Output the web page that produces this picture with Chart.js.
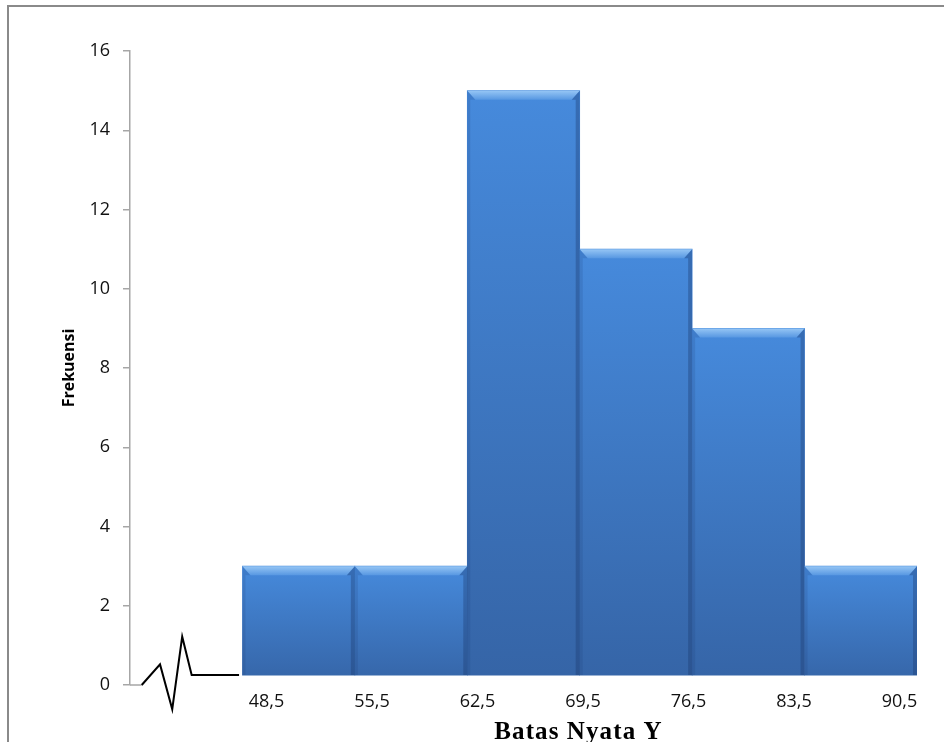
<!DOCTYPE html>
<html>
<head>
<meta charset="utf-8">
<script src="https://cdn.jsdelivr.net/npm/chart.js@4.4.1/dist/chart.umd.min.js"></script>
<style>
  body { margin: 0; background: #fff; }
  #wrap { position: relative; width: 944px; height: 742px; overflow: hidden; }
  #frame { position: absolute; left: 7px; top: 5px; width: 1000px; height: 800px; border: 2px solid #8a8a8a; }
  #myChart { position: absolute; left: 0; top: 0; }
</style>
</head>
<body>
<div id="wrap">
  <div id="frame"></div>
  <canvas id="myChart" width="944" height="742"></canvas>
</div>
<script>
const edges = [48.5, 55.5, 62.5, 69.5, 76.5, 83.5, 90.5];
const frekuensi = [3, 3, 15, 11, 9, 3];
const yTicks = [0, 2, 4, 6, 8, 10, 12, 14, 16];
const xTitle = 'Batas Nyata Y';
// zigzag "axis break" drawn left of the first bar (data units)
const breakX = [42.23, 43.37, 44.13, 44.75, 45.34, 48.29];
const breakY = [0, 0.52, -0.61, 1.22, 0.25, 0.25];

Chart.defaults.font.family = "'Open Sans', sans-serif";

const barData = frekuensi.map((f, i) => ({ x: (edges[i] + edges[i + 1]) / 2, y: f }));

function barFill(ctx) {
    const chart = ctx.chart;
    if (!chart.chartArea || ctx.type !== 'data') return '#4080d0';
    const ys = chart.scales.y;
    const top = ys.getPixelForValue(ctx.raw.y);
    const bot = ys.getPixelForValue(0);
    const g = chart.ctx.createLinearGradient(0, top, 0, bot);
    g.addColorStop(0, 'rgb(70,138,220)');
    g.addColorStop(1, 'rgb(53,100,166)');
    return g;
}

// bevel look of the office style bars
const bevel = {
    id: 'bevel',
    afterDatasetsDraw(chart) {
        const c = chart.ctx;
        chart.getDatasetMeta(0).data.forEach(bar => {
            const p = bar.getProps(['x', 'y', 'base', 'width'], true);
            const l = p.x - p.width / 2, r = p.x + p.width / 2, t = p.y, b = p.base;
            c.save();
            const g = c.createLinearGradient(0, t, 0, t + 9);
            g.addColorStop(0, 'rgb(150,198,245)');
            g.addColorStop(1, 'rgb(88,152,226)');
            c.fillStyle = g;
            c.beginPath();
            c.moveTo(l, t); c.lineTo(r, t); c.lineTo(r - 8, t + 9); c.lineTo(l + 8, t + 9);
            c.closePath(); c.fill();
            c.fillStyle = 'rgba(25,55,105,0.35)';
            c.beginPath();
            c.moveTo(r, t); c.lineTo(r, b); c.lineTo(r - 4, b); c.lineTo(r - 4, t + 9); c.lineTo(r - 8, t + 9);
            c.closePath(); c.fill();
            c.fillStyle = 'rgba(25,55,105,0.15)';
            c.beginPath();
            c.moveTo(l, t); c.lineTo(l + 8, t + 9); c.lineTo(l + 3, t + 9); c.lineTo(l + 3, b); c.lineTo(l, b);
            c.closePath(); c.fill();
            c.restore();
        });
    }
};

const axisBreak = {
    id: 'axisBreak',
    afterDraw(chart) {
        const c = chart.ctx, xs = chart.scales.x, ys = chart.scales.y, x2 = chart.scales.x2;
        const y0 = ys.getPixelForValue(0);
        c.save();
        c.strokeStyle = '#a6a6a6';
        c.lineWidth = 1.5;
        c.beginPath();
        c.moveTo(xs.left, y0);
        c.lineTo(xs.getPixelForValue(breakX[0]), y0);
        c.stroke();
        c.strokeStyle = '#000';
        c.lineWidth = 2;
        c.lineJoin = 'miter';
        c.beginPath();
        breakX.forEach((v, i) => {
            const px = xs.getPixelForValue(v), py = ys.getPixelForValue(breakY[i]);
            if (i) c.lineTo(px, py); else c.moveTo(px, py);
        });
        c.stroke();
        // x axis title, sits a bit right of the plot centre in the original
        c.font = "bold 25px 'Liberation Serif', 'Times New Roman', serif";
        if ('letterSpacing' in c) c.letterSpacing = '1.1px';
        c.fillStyle = '#000';
        c.textAlign = 'center';
        c.textBaseline = 'alphabetic';
        c.fillText(xTitle, x2.getPixelForValue(69.2), chart.height - 3);
        c.restore();
    }
};

const config = {
    type: 'bar',
    data: {
        datasets: [{
            label: 'Frekuensi',
            data: barData,
            base: 0.25,
            backgroundColor: barFill,
            borderWidth: 0,
            barPercentage: 1,
            categoryPercentage: 1,
            xAxisID: 'x'
        }]
    },
    options: {
        responsive: false,
        animation: false,
        devicePixelRatio: 1,
        layout: { padding: { left: 56, right: 27, top: 51, bottom: 0 } },
        plugins: { legend: { display: false }, tooltip: { enabled: false } },
        scales: {
            x: {
                type: 'linear',
                display: false,
                offset: false,
                min: 41.5,
                max: 90.5,
                afterBuildTicks: s => { s.ticks = [41.5].concat(edges).map(v => ({ value: v })); }
            },
            x2: {
                type: 'linear',
                position: 'bottom',
                offset: false,
                min: 39.44,
                max: 91.66,
                grid: { display: false, drawTicks: false, offset: false },
                border: { display: false },
                afterBuildTicks: s => { s.ticks = edges.map(v => ({ value: v })); },
                afterFit: s => { s.height = 57; },
                ticks: {
                    autoSkip: false,
                    maxRotation: 0,
                    padding: 6,
                    color: '#111',
                    font: { size: 18 },
                    callback: v => v.toFixed(1).replace('.', ',')
                }
            },
            y: {
                min: 0,
                max: 16,
                afterBuildTicks: s => { s.ticks = yTicks.map(v => ({ value: v })); },
                afterFit: s => { s.width = 74; },
                grid: { drawOnChartArea: false, tickLength: 7, color: '#a6a6a6', lineWidth: 1.5 },
                border: { color: '#a6a6a6', width: 1.5 },
                ticks: { padding: 13, color: '#111', font: { size: 18 } },
                title: {
                    display: true,
                    text: 'Frekuensi',
                    color: '#000',
                    padding: { top: 4, bottom: 4 },
                    font: { size: 16, weight: 'bold' }
                }
            }
        }
    },
    plugins: [bevel, axisBreak]
};

const myChart = new Chart(document.getElementById('myChart'), config);
</script>
</body>
</html>
